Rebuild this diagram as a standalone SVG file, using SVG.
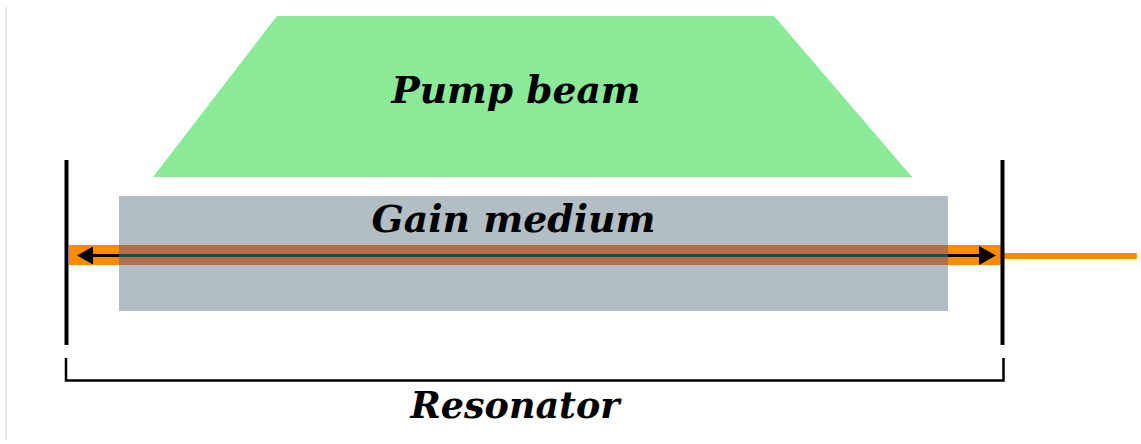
<svg xmlns="http://www.w3.org/2000/svg" width="1141" height="444" viewBox="0 0 1141 444">
  <style>
    .label { font-family: "DejaVu Serif", serif; font-style: italic; font-weight: bold; fill: #000; text-anchor: middle; }
    .mirror { stroke: #000; stroke-width: 4; fill: none; }
    .bracket { stroke: #000; stroke-width: 2.5; fill: none; }
  </style>
  <rect width="1141" height="444" fill="#fff"/>
  <line x1="6" y1="7" x2="6" y2="440" stroke="#d4d4d4" stroke-width="1"/>

  <g id="pump-beam">
    <polygon points="277,16 774,16 912,177 153,177" fill="#8BEA97"/>
    <text class="label" x="516" y="103" font-size="37.6">Pump beam</text>
  </g>

  <g id="beam">
    <rect x="69" y="245" width="933" height="20" fill="#FF8C00"/>
    <rect x="1004" y="253" width="133" height="6" fill="#FF8C00"/>
  </g>

  <g id="gain-medium">
    <rect x="119" y="196" width="829" height="115" fill="#B2BEC3"/>
    <rect x="119" y="245" width="829" height="20" fill="#B07048"/>
    <text class="label" x="513.5" y="232" font-size="37.8">Gain medium</text>
  </g>

  <g id="connectors">
    <line x1="93" y1="255.5" x2="119" y2="255.5" stroke="#000" stroke-width="3"/>
    <line x1="119" y1="255.5" x2="948" y2="255.5" stroke="#0F4E5E" stroke-width="3"/>
    <line x1="948" y1="255.5" x2="980" y2="255.5" stroke="#000" stroke-width="3"/>
    <path d="M77,255.5 L93,246.5 L93,264.5 Z" fill="#000"/>
    <path d="M996,255.5 L979,246 L979,265 Z" fill="#000"/>
  </g>

  <g id="mirror-left">
    <line class="mirror" x1="66.5" y1="160" x2="66.5" y2="345"/>
  </g>
  <g id="mirror-right">
    <line class="mirror" x1="1002.5" y1="160" x2="1002.5" y2="345"/>
  </g>

  <g id="resonator">
    <path class="bracket" d="M66,358 V380.5 H1003.5 V358"/>
    <text class="label" x="515" y="418" font-size="36.5">Resonator</text>
  </g>
</svg>
